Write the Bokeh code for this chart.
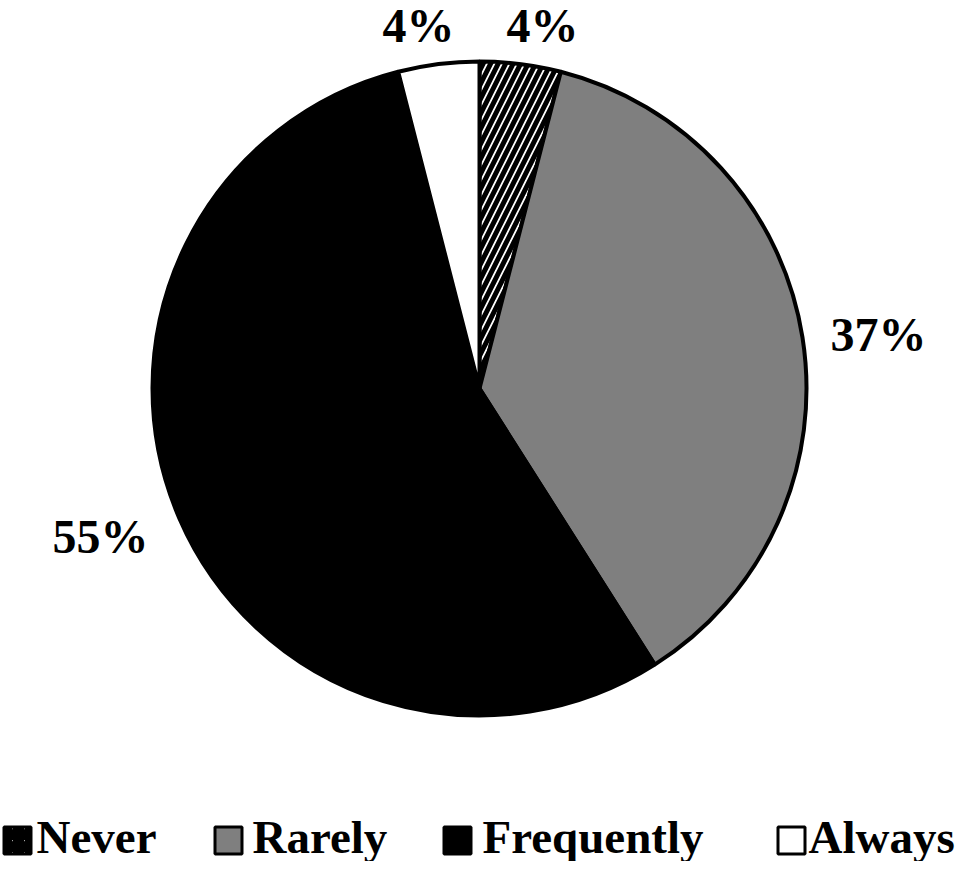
import math
from bokeh.plotting import figure
from bokeh.models import Range1d, ColumnDataSource
from bokeh.core.properties import value
from bokeh.embed import file_html
from bokeh.resources import INLINE

categories = ["Never", "Rarely", "Frequently", "Always"]
percents = [4, 37, 55, 4]
labels = ["4%", "37%", "55%", "4%"]
fills = ["white", "#7f7f7f", "black", "white"]
hatches = ["right_diagonal_line", "blank", "blank", "blank"]

W, H = 962, 861
IMG_H = 869
TXT_OFF = 17  # compensate renderer baseline shift

def Y(img_y):
    return IMG_H - img_y

def TY(img_y):
    return IMG_H - (img_y - TXT_OFF)

p = figure(width=W, height=H, output_backend="svg", toolbar_location=None,
           x_range=Range1d(0, W), y_range=Range1d(IMG_H - H, IMG_H),
           min_border=0, outline_line_color=None)
p.axis.visible = False
p.grid.visible = False
p.background_fill_color = "white"
p.border_fill_color = "white"

cx, cy, r = 479, Y(388), 327
total = sum(percents)
starts, ends = [], []
cum = 0.0
for v in percents:
    starts.append(math.pi / 2 - 2 * math.pi * cum / total)
    cum += v
    ends.append(math.pi / 2 - 2 * math.pi * cum / total)

src = ColumnDataSource(dict(start=starts, end=ends, fill=fills, hatch=hatches, cat=categories))
p.wedge(x=cx, y=cy, radius=r, start_angle="start", end_angle="end", direction="clock",
        fill_color="fill", hatch_pattern="hatch", hatch_color="black", hatch_scale=15,
        hatch_weight=5, line_color="black", line_width=4, source=src)

# percentage labels
lab_x = [542, 878, 100, 418]
lab_y = [TY(42), TY(351), TY(553), TY(42)]
p.text(x=lab_x, y=lab_y, text=labels, text_align="center", text_baseline="alphabetic",
       text_font=value("Liberation Serif"), text_font_style="bold",
       text_font_size="48px", text_color="black")

# legend
sq_x = [17, 228, 457, 791]
txt_x = [36, 252, 482, 808]
sq_y = [Y(840)] * 4
p.rect(x=sq_x, y=sq_y, width=27, height=27, fill_color=fills, line_color="black",
       line_width=3, hatch_pattern=hatches, hatch_color="black", hatch_scale=12, hatch_weight=6)
p.text(x=txt_x, y=[TY(853)] * 4, text=categories, text_align="left", text_baseline="alphabetic",
       text_font=value("Liberation Serif"), text_font_style="bold",
       text_font_size="47px", text_color="black")

open("out.html", "w").write(file_html(p, INLINE))
